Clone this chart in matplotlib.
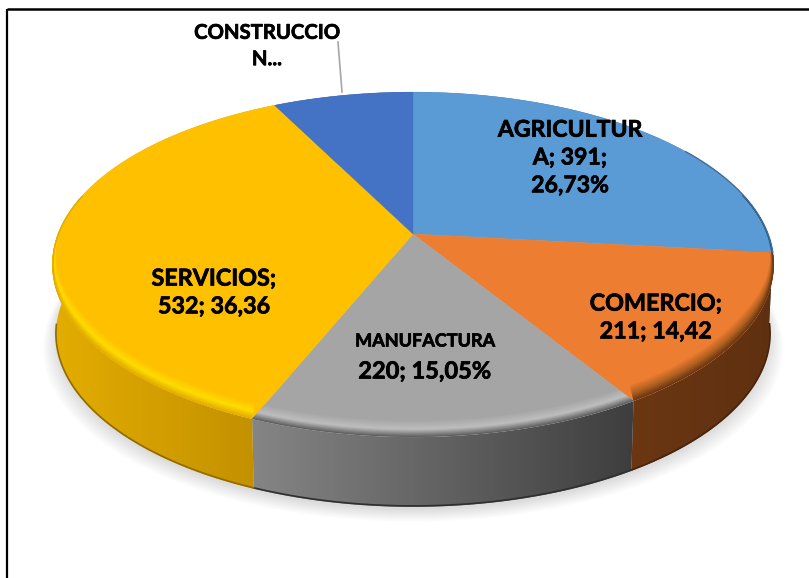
import numpy as np
import matplotlib
matplotlib.use('Agg')
import matplotlib.pyplot as plt
import matplotlib.patheffects as pe
from matplotlib.patches import Polygon
from matplotlib.colors import to_rgb

plt.rcParams['font.family'] = ['Lato', 'DejaVu Sans']

sectores = ['AGRICULTURA', 'COMERCIO', 'MANUFACTURA', 'SERVICIOS', 'CONSTRUCCION']
valores = [391, 211, 220, 532, 109]
col_top = ['#5B9BD5', '#ED7D31', '#A5A5A5', '#FFC000', '#4472C4']
col_luz = ['#4A80B0', '#B06020', '#BEBEBE', '#FFDC00', '#4472C4']
col_izq = ['#2E5478', '#6B3713', '#858585', '#E3AD00', '#2A4A80']
col_der = ['#2E5478', '#5F3010', '#3E3E3E', '#C08E00', '#2A4A80']

etiquetas = ['AGRICULTUR\nA; 391;\n26,73%', 'COMERCIO;\n211; 14,42', '220; 15,05%',
             'SERVICIOS;\n532; 36,36', 'CONSTRUCCIO\nN...']
etiqueta_x = [570, 656, 425, 214, 267]
etiqueta_y = [158, 318, 371, 293, 46]
etiqueta_tam = [16.6, 16.8, 17, 16.8, 14.6]

# proyeccion de la tarta: r=radio relativo, t=angulo horario desde arriba
CX, CY, A, B, K = 413, 234, 167, 355, 0.177
PROF = 70


def proy(t, r=1.0, dy=0.0, esc=1.0):
    u, v = r * np.sin(t), r * np.cos(t)
    d = 1 + K * v
    return CX + esc * B * u / d, CY - A * v / d + dy


def mezcla(c1, c2, f):
    return tuple((1 - f) * a + f * b for a, b in zip(to_rgb(c1), to_rgb(c2)))


fig = plt.figure(figsize=(8.09, 5.78), dpi=100)
ax = fig.add_axes([0, 0, 1, 1])
ax.set_xlim(0, 809)
ax.set_ylim(578, 0)
ax.axis('off')

# marco
ax.plot([7.5, 7.5], [578, 9], color='black', lw=1.6, solid_capstyle='butt')
ax.plot([7.5, 809], [9, 9], color='black', lw=1.8, solid_capstyle='butt')

angulos = 2 * np.pi * np.concatenate([[0], np.cumsum(valores)]) / np.sum(valores)
t_all = np.linspace(0, 2 * np.pi, 400)

# sombra
for i in range(18):
    x, y = proy(t_all, 1.0, PROF + 2 + i * 0.75, 0.985 + i * 0.0024)
    ax.fill(x, y, color='#9A9AA4', alpha=0.02, lw=0, zorder=1)

# lateral
for i in range(len(valores)):
    t = np.linspace(angulos[i], angulos[i + 1], 200)
    xt, yt = proy(t)
    xb, yb = proy(t, 1.0, PROF, 0.99)
    pts = np.vstack([np.column_stack([xt, yt]), np.column_stack([xb, yb])[::-1]])
    parche = Polygon(pts, closed=True, fc='none', ec='none', zorder=2)
    ax.add_patch(parche)
    grad = np.array([mezcla(col_izq[i], col_der[i], f) for f in np.linspace(0, 1, 128)])[None, :, :]
    im = ax.imshow(grad, extent=[pts[:, 0].min(), pts[:, 0].max(), 578, 0], aspect='auto',
                   zorder=2, interpolation='bilinear')
    im.set_clip_path(parche)
ax.set_xlim(0, 809)
ax.set_ylim(578, 0)

# cara superior y bisel (el bisel se recorta a su sector)
for i in range(len(valores)):
    t = np.linspace(angulos[i], angulos[i + 1], 200)
    x, y = proy(t)
    pts = np.vstack([[CX, CY], np.column_stack([x, y])])
    cuna = Polygon(pts, closed=True, fc=col_top[i], ec=col_top[i], lw=0.3, zorder=3)
    ax.add_patch(cuna)
    t = t[np.cos(t) < 0.25]
    if len(t) < 2:
        continue
    peso = np.clip((0.2 - np.cos(t)) / 0.7, 0, 1)
    medio = '#606060' if i == 2 else col_izq[i]
    for s in np.linspace(1, 0, 16):
        if s > 0.45:
            c = mezcla(col_top[i], col_luz[i], (1 - s) / 0.55)
        else:
            c = mezcla(col_luz[i], medio, (0.45 - s) / 0.45)
        x, y = proy(t, 1 - 0.014 * s * peso, -13 * s * peso)
        linea, = ax.plot(x, y, color=c, lw=1.4, zorder=4, solid_capstyle='butt')
        linea.set_clip_path(cuna)

# filo oscuro del borde derecho
t = np.linspace(1.0, angulos[1], 60)
x, y = proy(t)
ax.plot(x, y, color='#3F6E9C', lw=1.0, zorder=4)

# borde inferior oscuro del lateral
for i in range(len(valores)):
    t = np.linspace(angulos[i], angulos[i + 1], 200)
    t = t[np.cos(t) < -0.12]
    if len(t) > 1:
        x, y = proy(t, 1.0, PROF - 1, 0.99)
        ax.plot(x, y, color=mezcla(col_der[i], '#000000', 0.25), lw=1.2, zorder=4)

# etiquetas
trazo = [pe.withStroke(linewidth=0.5, foreground='black')]
for i in range(len(valores)):
    ax.text(etiqueta_x[i], etiqueta_y[i], etiquetas[i], ha='center', va='center',
            fontsize=etiqueta_tam[i], fontweight='bold', color='black', linespacing=1.4,
            zorder=6, path_effects=trazo)
ax.text(425, 341, 'MANUFACTURA', ha='center', va='center', fontsize=13, fontweight='bold',
        color='black', zorder=6, path_effects=trazo)
ax.plot([338, 342], [42, 92], color='#A6A6A6', lw=1.2, zorder=5)

fig.savefig('out.png', dpi=100)
